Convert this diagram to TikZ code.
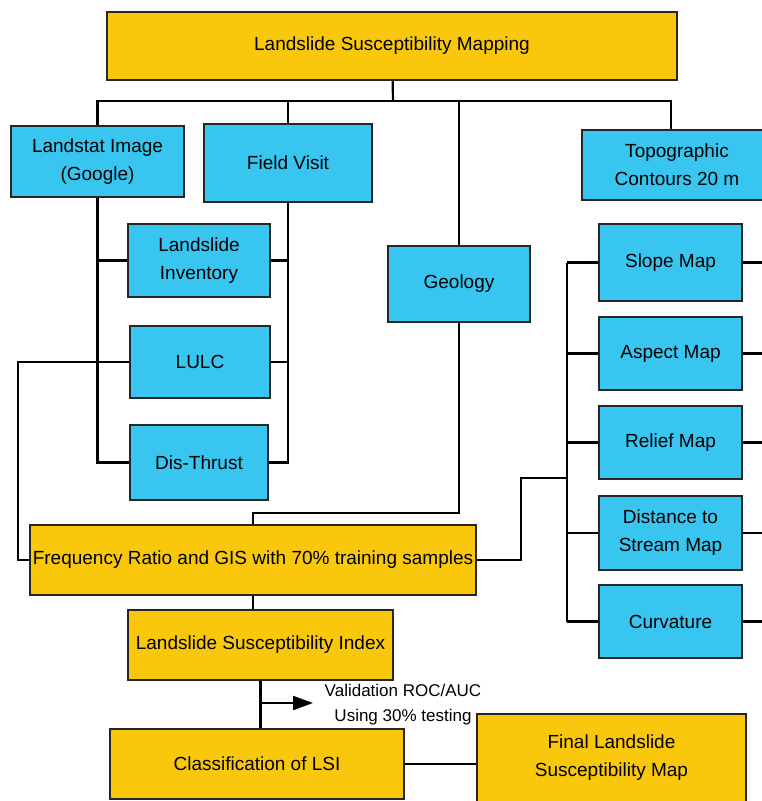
\documentclass[tikz,border=0pt]{standalone}
\usepackage{fontspec}
\setmainfont{Liberation Sans}
\usetikzlibrary{arrows.meta}
\definecolor{boxyellow}{HTML}{F9C80C}
\definecolor{boxblue}{HTML}{38C5F0}
\definecolor{boxline}{HTML}{262626}
\tikzstyle{yellowbox} = [rectangle,
	draw=boxline,
	line width=1.5pt,
	fill=boxyellow,
	text centered,
	align=center,
	inner sep=0pt,
	font=\fontsize{19}{28}\selectfont
	]
\tikzstyle{bluebox} = [yellowbox,
	fill=boxblue
	]
\tikzstyle{link} = [line width=2.2pt, draw=black]
\tikzstyle{arrow} = [link, -{Triangle[length=20pt,width=14pt]}]

\begin{document}
\begin{tikzpicture}[x=1pt, y=-1pt]
\useasboundingbox (0,0) rectangle (761,801);

\node (title) [yellowbox, minimum width=570pt, minimum height=68pt] at (392,46) {Landslide Susceptibility Mapping};

\node (landsat) [bluebox, minimum width=173pt, minimum height=71pt] at (97.5,161.5) {Landstat Image\\(Google)};
\node (field) [bluebox, minimum width=168pt, minimum height=78pt] at (288,163) {Field Visit};
\node (topo) [bluebox, minimum width=190pt, minimum height=70pt] at (677,165) {Topographic\\Contours 20 m};

\node (inventory) [bluebox, minimum width=142pt, minimum height=73pt] at (199,260.5) {Landslide\\Inventory};
\node (lulc) [bluebox, minimum width=140pt, minimum height=72pt] at (200,362) {LULC};
\node (thrust) [bluebox, minimum width=138pt, minimum height=75pt] at (199,462.5) {Dis-Thrust};
\node (geology) [bluebox, minimum width=142pt, minimum height=76pt] at (459,284) {Geology};

\node (slope) [bluebox, minimum width=143pt, minimum height=77pt] at (670.5,262.5) {Slope Map};
\node (aspect) [bluebox, minimum width=143pt, minimum height=73pt] at (670.5,353.5) {Aspect Map};
\node (relief) [bluebox, minimum width=143pt, minimum height=73pt] at (670.5,442.5) {Relief Map};
\node (stream) [bluebox, minimum width=143pt, minimum height=74pt] at (670.5,533) {Distance to\\Stream Map};
\node (curv) [bluebox, minimum width=143pt, minimum height=73pt] at (670.5,621.5) {Curvature};

\node (fr) [yellowbox, minimum width=446pt, minimum height=70pt] at (253,560) {Frequency Ratio and GIS with 70\% training samples};
\node (lsi) [yellowbox, minimum width=265pt, minimum height=70pt] at (260.5,645) {Landslide Susceptibility Index};
\node (class) [yellowbox, minimum width=294pt, minimum height=70pt] at (257,764) {Classification of LSI};
\node (final) [yellowbox, minimum width=269pt, minimum height=88pt] at (611.5,758) {Final Landslide\\Susceptibility Map};

\node (valid) [align=center, font=\fontsize{17}{25}\selectfont] at (403,705) {Validation ROC/AUC\\Using 30\% testing};

\coordinate (bus) at (393,101);
\coordinate (lk) at (18,0);
\coordinate (gk) at (253,513);
\coordinate (fk) at (521,478);
\coordinate (rk) at (567,478);
\coordinate (edge) at (770,0);
\coordinate (vtip) at (313,703);

% top level
\draw [link] (title) -- (bus);
\draw [link] (landsat.north) |- (bus) -| ([xshift=-6pt]topo.north);
\draw [link] (field.north) -- (field.north |- bus);
\draw [link] (geology.north) -- (geology.north |- bus);

% left trunks
\draw [link] (landsat.south) |- (thrust.west);
\draw [link] (landsat.south |- inventory.west) -- (inventory.west);
\draw [link] (landsat.south |- lulc.west) -- (lulc.west);
\draw [link] (field.south) |- (thrust.east);
\draw [link] (field.south |- inventory.east) -- (inventory.east);
\draw [link] (field.south |- lulc.east) -- (lulc.east);
\draw [link] (lulc.west) -- (lulc.west -| lk) |- (fr.west);

\draw [link] (geology.south) |- (gk) -- (fr.north);

% right trunk
\draw [link] (fr.east) -| (fk) -- (rk);
\draw [link] (slope.west -| rk) -- (curv.west -| rk);
\foreach \m in {slope, aspect, relief, stream, curv} {
	\draw [link] (\m.west -| rk) -- (\m.west);
	\draw [link] (\m.east) -- (\m.east -| edge);
}

% bottom
\draw [link] (fr.south) -- (fr.south |- lsi.north);
\draw [link] (lsi.south) -- (lsi.south |- class.north);
\draw [arrow] (lsi.south |- vtip) -- (vtip);
\draw [link] (class.east) -- (class.east -| final.west);

\end{tikzpicture}
\end{document}
